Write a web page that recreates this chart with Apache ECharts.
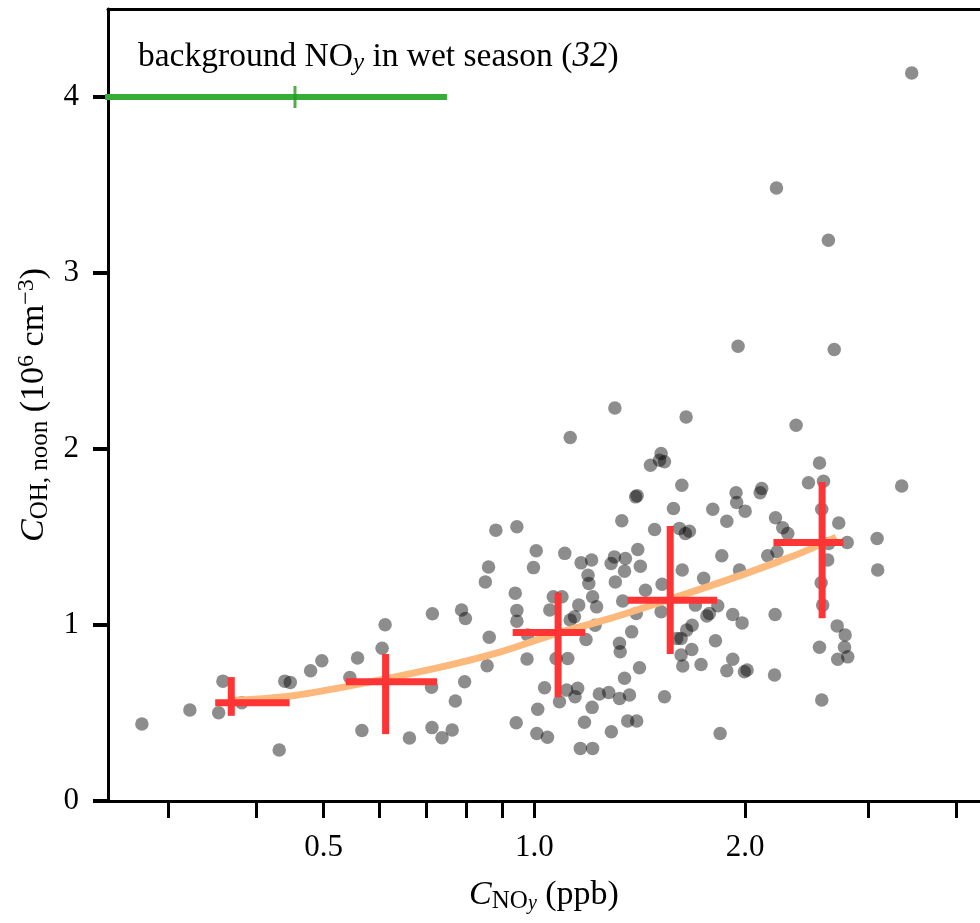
<!DOCTYPE html>
<html>
<head>
    <meta charset="utf-8">
    <title>OH vs NOy</title>
    <script src="https://cdn.jsdelivr.net/npm/echarts@6/dist/echarts.min.js"></script>
    <style>
        html, body {margin: 0; padding: 0; background: #fff;}
        #chart {width: 980px; height: 923px;}
    </style>
</head>
<body>
<div id="chart"></div>
<script type="text/javascript">

    // 散点: NOy (ppb) / OH noon (1e6 cm-3)
    var noyX = [0.275, 0.322, 0.354, 0.359, 0.382, 0.432, 0.440, 0.448, 0.479, 0.497,
        0.545, 0.559, 0.567, 0.606, 0.612, 0.663, 0.713, 0.715, 0.714, 0.738,
        0.763, 0.771, 0.795, 0.787, 0.797, 0.856, 0.862, 0.851, 0.860, 0.881,
        0.944, 1.006, 0.997, 0.939, 0.944, 0.944, 0.976, 1.034, 1.011, 0.942,
        1.008, 1.044, 1.052, 1.064, 1.095, 0.978, 1.125, 1.105, 1.166, 1.207,
        1.193, 1.196, 1.211, 1.227, 1.157, 1.141, 1.125, 1.221, 1.185, 1.074,
        1.116, 1.112, 1.153, 1.143, 1.238, 1.277, 1.086, 1.209, 1.179, 1.163,
        1.211, 1.288, 1.303, 1.647, 1.517, 1.509, 1.534, 1.465, 1.624, 1.402,
        1.395, 1.580, 1.798, 1.941, 1.945, 2.000, 2.112, 2.101, 1.333, 1.883,
        1.485, 1.611, 1.643, 1.665, 2.210, 1.405, 1.301, 1.287, 1.349, 1.417,
        1.345, 1.852, 2.154, 2.221, 1.626, 1.963, 1.305, 1.745, 1.441, 1.522,
        1.337, 1.398, 1.517, 1.698, 1.828, 1.763, 1.778, 1.920, 1.980, 2.207,
        1.377, 1.680, 1.650, 1.620, 1.597, 1.814, 1.323, 1.326, 1.678, 1.620,
        1.629, 1.730, 1.413, 1.920, 1.883, 1.995, 2.013, 2.203, 1.345, 1.323,
        1.367, 1.534, 1.359, 1.400, 1.842, 2.365, 2.554, 2.463, 2.588, 3.347,
        2.573, 2.263, 2.301, 2.721, 2.798, 2.633, 3.087, 2.624, 3.093, 2.568,
        2.581, 2.707, 2.779, 2.773, 2.803, 2.712, 2.554, 2.573, 3.459, 2.217,
        2.630, 1.954, 2.681];
    var ohY = [0.437, 0.517, 0.501, 0.681, 0.558, 0.290, 0.681, 0.674, 0.740, 0.797,
        0.702, 0.812, 0.401, 0.868, 1.001, 0.358, 0.646, 1.064, 0.417, 0.359,
        0.403, 0.568, 0.677, 1.085, 1.037, 0.768, 0.930, 1.245, 1.329, 1.539,
        1.558, 1.422, 1.326, 1.181, 1.083, 1.022, 0.807, 0.643, 0.521, 0.445,
        0.384, 0.362, 1.085, 1.160, 1.160, 0.943, 2.065, 1.407, 1.353, 1.369,
        1.283, 1.236, 1.160, 1.103, 1.113, 1.047, 1.028, 0.999, 0.918, 0.810,
        0.810, 0.630, 0.640, 0.592, 0.608, 0.617, 0.564, 0.532, 0.447, 0.299,
        0.299, 0.394, 2.233, 2.182, 1.974, 1.936, 1.927, 1.908, 1.794, 1.735,
        1.728, 1.662, 1.658, 1.751, 1.696, 1.647, 1.776, 1.751, 1.592, 1.590,
        1.543, 1.549, 1.520, 1.533, 1.609, 1.429, 1.387, 1.350, 1.378, 1.334,
        1.306, 1.393, 1.393, 1.416, 1.312, 1.312, 1.245, 1.265, 1.198, 1.231,
        1.136, 1.066, 1.075, 1.113, 1.109, 1.051, 1.066, 1.060, 1.012, 1.060,
        0.961, 0.999, 0.971, 0.924, 0.924, 0.910, 0.896, 0.848, 0.861, 0.829,
        0.767, 0.776, 0.757, 0.805, 0.740, 0.734, 0.744, 0.716, 0.697, 0.583,
        0.602, 0.592, 0.454, 0.454, 0.384, 2.135, 1.921, 1.808, 1.817, 1.790,
        1.658, 1.552, 1.520, 1.580, 1.469, 1.463, 1.492, 1.369, 1.312, 1.240,
        1.113, 0.995, 0.943, 0.873, 0.819, 0.805, 0.873, 0.574, 4.136, 3.483,
        3.186, 2.584, 2.565];

    // 分箱十字: [x中心, y中心, x下, x上, y下, y上]
    var binCross = [
        [0.369, 0.558, 0.350, 0.447, 0.484, 0.704],
        [0.613, 0.677, 0.538, 0.726, 0.380, 0.835],
        [1.081, 0.958, 0.931, 1.182, 0.589, 1.183],
        [1.563, 1.140, 1.359, 1.824, 0.835, 1.563],
        [2.576, 1.469, 2.195, 2.763, 1.039, 1.813]
    ];

    // 拟合曲线
    var fitX = [0.369, 0.447, 0.538, 0.724, 0.882, 1.074, 1.280, 1.563, 1.778, 1.984, 2.239, 2.417, 2.698];
    var fitY = [0.571, 0.596, 0.650, 0.755, 0.840, 0.951, 1.036, 1.147, 1.221, 1.286, 1.363, 1.414, 1.499];

    // 湿季背景 NOy: 中心 / 范围
    var bgNoy = {center: 0.455, low: 0.15, high: 0.75, level: 4};

    var xTicks = [0.3, 0.4, 0.5, 0.6, 0.7, 0.8, 0.9, 1.0, 2.0, 3.0, 4.0];
    var xLabels = [0.5, 1.0, 2.0];
    var yTicks = [0, 1, 2, 3, 4];

    var serif = 'Liberation Serif';

    var scatterData = [];
    for (var i = 0; i < noyX.length; i++) {
        scatterData.push([noyX[i], ohY[i]]);
    }
    var fitData = [];
    for (var j = 0; j < fitX.length; j++) {
        fitData.push([fitX[j], fitY[j]]);
    }

    var rich = {
        it: {fontFamily: serif, fontSize: 34, fontStyle: 'italic', color: '#000', lineHeight: 38},
        sub: {fontFamily: serif, fontSize: 25, color: '#000', lineHeight: 17, verticalAlign: 'bottom'},
        subi: {fontFamily: serif, fontSize: 25, fontStyle: 'italic', color: '#000', lineHeight: 17, verticalAlign: 'bottom'},
        subsub: {fontFamily: serif, fontSize: 20, fontStyle: 'italic', color: '#000', lineHeight: 8, verticalAlign: 'bottom'},
        sup: {fontFamily: serif, fontSize: 24, color: '#000', lineHeight: 19, verticalAlign: 'top'}
    };
    var titleRich = {
        it: {fontFamily: serif, fontSize: 35, fontStyle: 'italic', color: '#000', lineHeight: 38},
        subi: {fontFamily: serif, fontSize: 25, fontStyle: 'italic', color: '#000', lineHeight: 17, verticalAlign: 'bottom'}
    };

    var chart = echarts.init(document.getElementById('chart'));

    var option = {
        animation: false,
        backgroundColor: '#fff',
        title: {
            text: 'background NO{subi|y} in wet season ({it|32})',
            left: 133,
            top: 33,
            textStyle: {fontFamily: serif, fontSize: 33.5, fontWeight: 'normal', color: '#000', lineHeight: 38, rich: titleRich}
        },
        grid: {left: 108, right: 0, top: 9, bottom: 122},
        xAxis: [{
            type: 'log',
            min: 0.246,
            max: 4.33,
            name: '{it|C}{sub|NO}{subsub|y} (ppb)',
            nameLocation: 'middle',
            nameGap: 75,
            nameTextStyle: {fontFamily: serif, fontSize: 34, color: '#000', lineHeight: 38, rich: rich},
            axisLine: {lineStyle: {color: '#000', width: 3}},
            axisTick: {show: true, length: 17, customValues: xTicks, lineStyle: {color: '#000', width: 3}},
            axisLabel: {
                customValues: xLabels,
                margin: 31,
                fontFamily: serif,
                fontSize: 31,
                color: '#000',
                formatter: function (v) {
                    return Number(v).toFixed(1);
                }
            },
            minorTick: {show: false},
            splitLine: {show: false}
        }, {
            type: 'log',
            position: 'top',
            min: 0.246,
            max: 4.33,
            axisLine: {lineStyle: {color: '#000', width: 3}},
            axisTick: {show: false},
            axisLabel: {show: false},
            splitLine: {show: false}
        }],
        yAxis: {
            type: 'value',
            min: 0,
            max: 4.5,
            name: '{it|C}{sub|OH, noon} (10{sup|6} cm{sup|\u22123})',
            nameLocation: 'middle',
            nameGap: 55,
            nameTextStyle: {fontFamily: serif, fontSize: 34, color: '#000', lineHeight: 38, rich: rich},
            axisLine: {show: true, lineStyle: {color: '#000', width: 3}},
            axisTick: {show: true, length: 15, customValues: yTicks, lineStyle: {color: '#000', width: 4}},
            axisLabel: {customValues: yTicks, margin: 29, fontFamily: serif, fontSize: 31, color: '#000'},
            splitLine: {show: false}
        },
        series: [
            {
                name: 'obs',
                type: 'scatter',
                data: scatterData,
                symbol: 'circle',
                symbolSize: 13.5,
                itemStyle: {color: 'rgba(0,0,0,0.56)'},
                z: 2
            },
            {
                name: 'fit',
                type: 'line',
                data: fitData,
                smooth: 0.3,
                symbol: 'none',
                lineStyle: {color: '#fdb97c', width: 7},
                z: 3
            },
            {
                name: 'bins',
                type: 'custom',
                data: binCross,
                z: 4,
                renderItem: function (params, api) {
                    var xc = api.value(0), yc = api.value(1);
                    var a = api.coord([api.value(2), yc]);
                    var b = api.coord([api.value(3), yc]);
                    var c = api.coord([xc, api.value(4)]);
                    var d = api.coord([xc, api.value(5)]);
                    var st = {stroke: '#ff3434', lineWidth: 7, lineCap: 'butt'};
                    return {
                        type: 'group',
                        children: [
                            {type: 'line', shape: {x1: a[0], y1: a[1], x2: b[0], y2: b[1]}, style: st},
                            {type: 'line', shape: {x1: c[0], y1: c[1], x2: d[0], y2: d[1]}, style: st}
                        ]
                    };
                }
            },
            {
                name: 'bgRange',
                type: 'line',
                data: [[bgNoy.low, bgNoy.level], [bgNoy.high, bgNoy.level]],
                symbol: 'none',
                clip: true,
                lineStyle: {color: '#36ad36', width: 6},
                z: 4
            },
            {
                name: 'bgCenter',
                type: 'scatter',
                data: [[bgNoy.center, bgNoy.level]],
                symbol: 'rect',
                symbolSize: [3, 22],
                itemStyle: {color: '#229a22'},
                z: 5
            }
        ]
    };

    chart.setOption(option);

</script>
</body>
</html>
